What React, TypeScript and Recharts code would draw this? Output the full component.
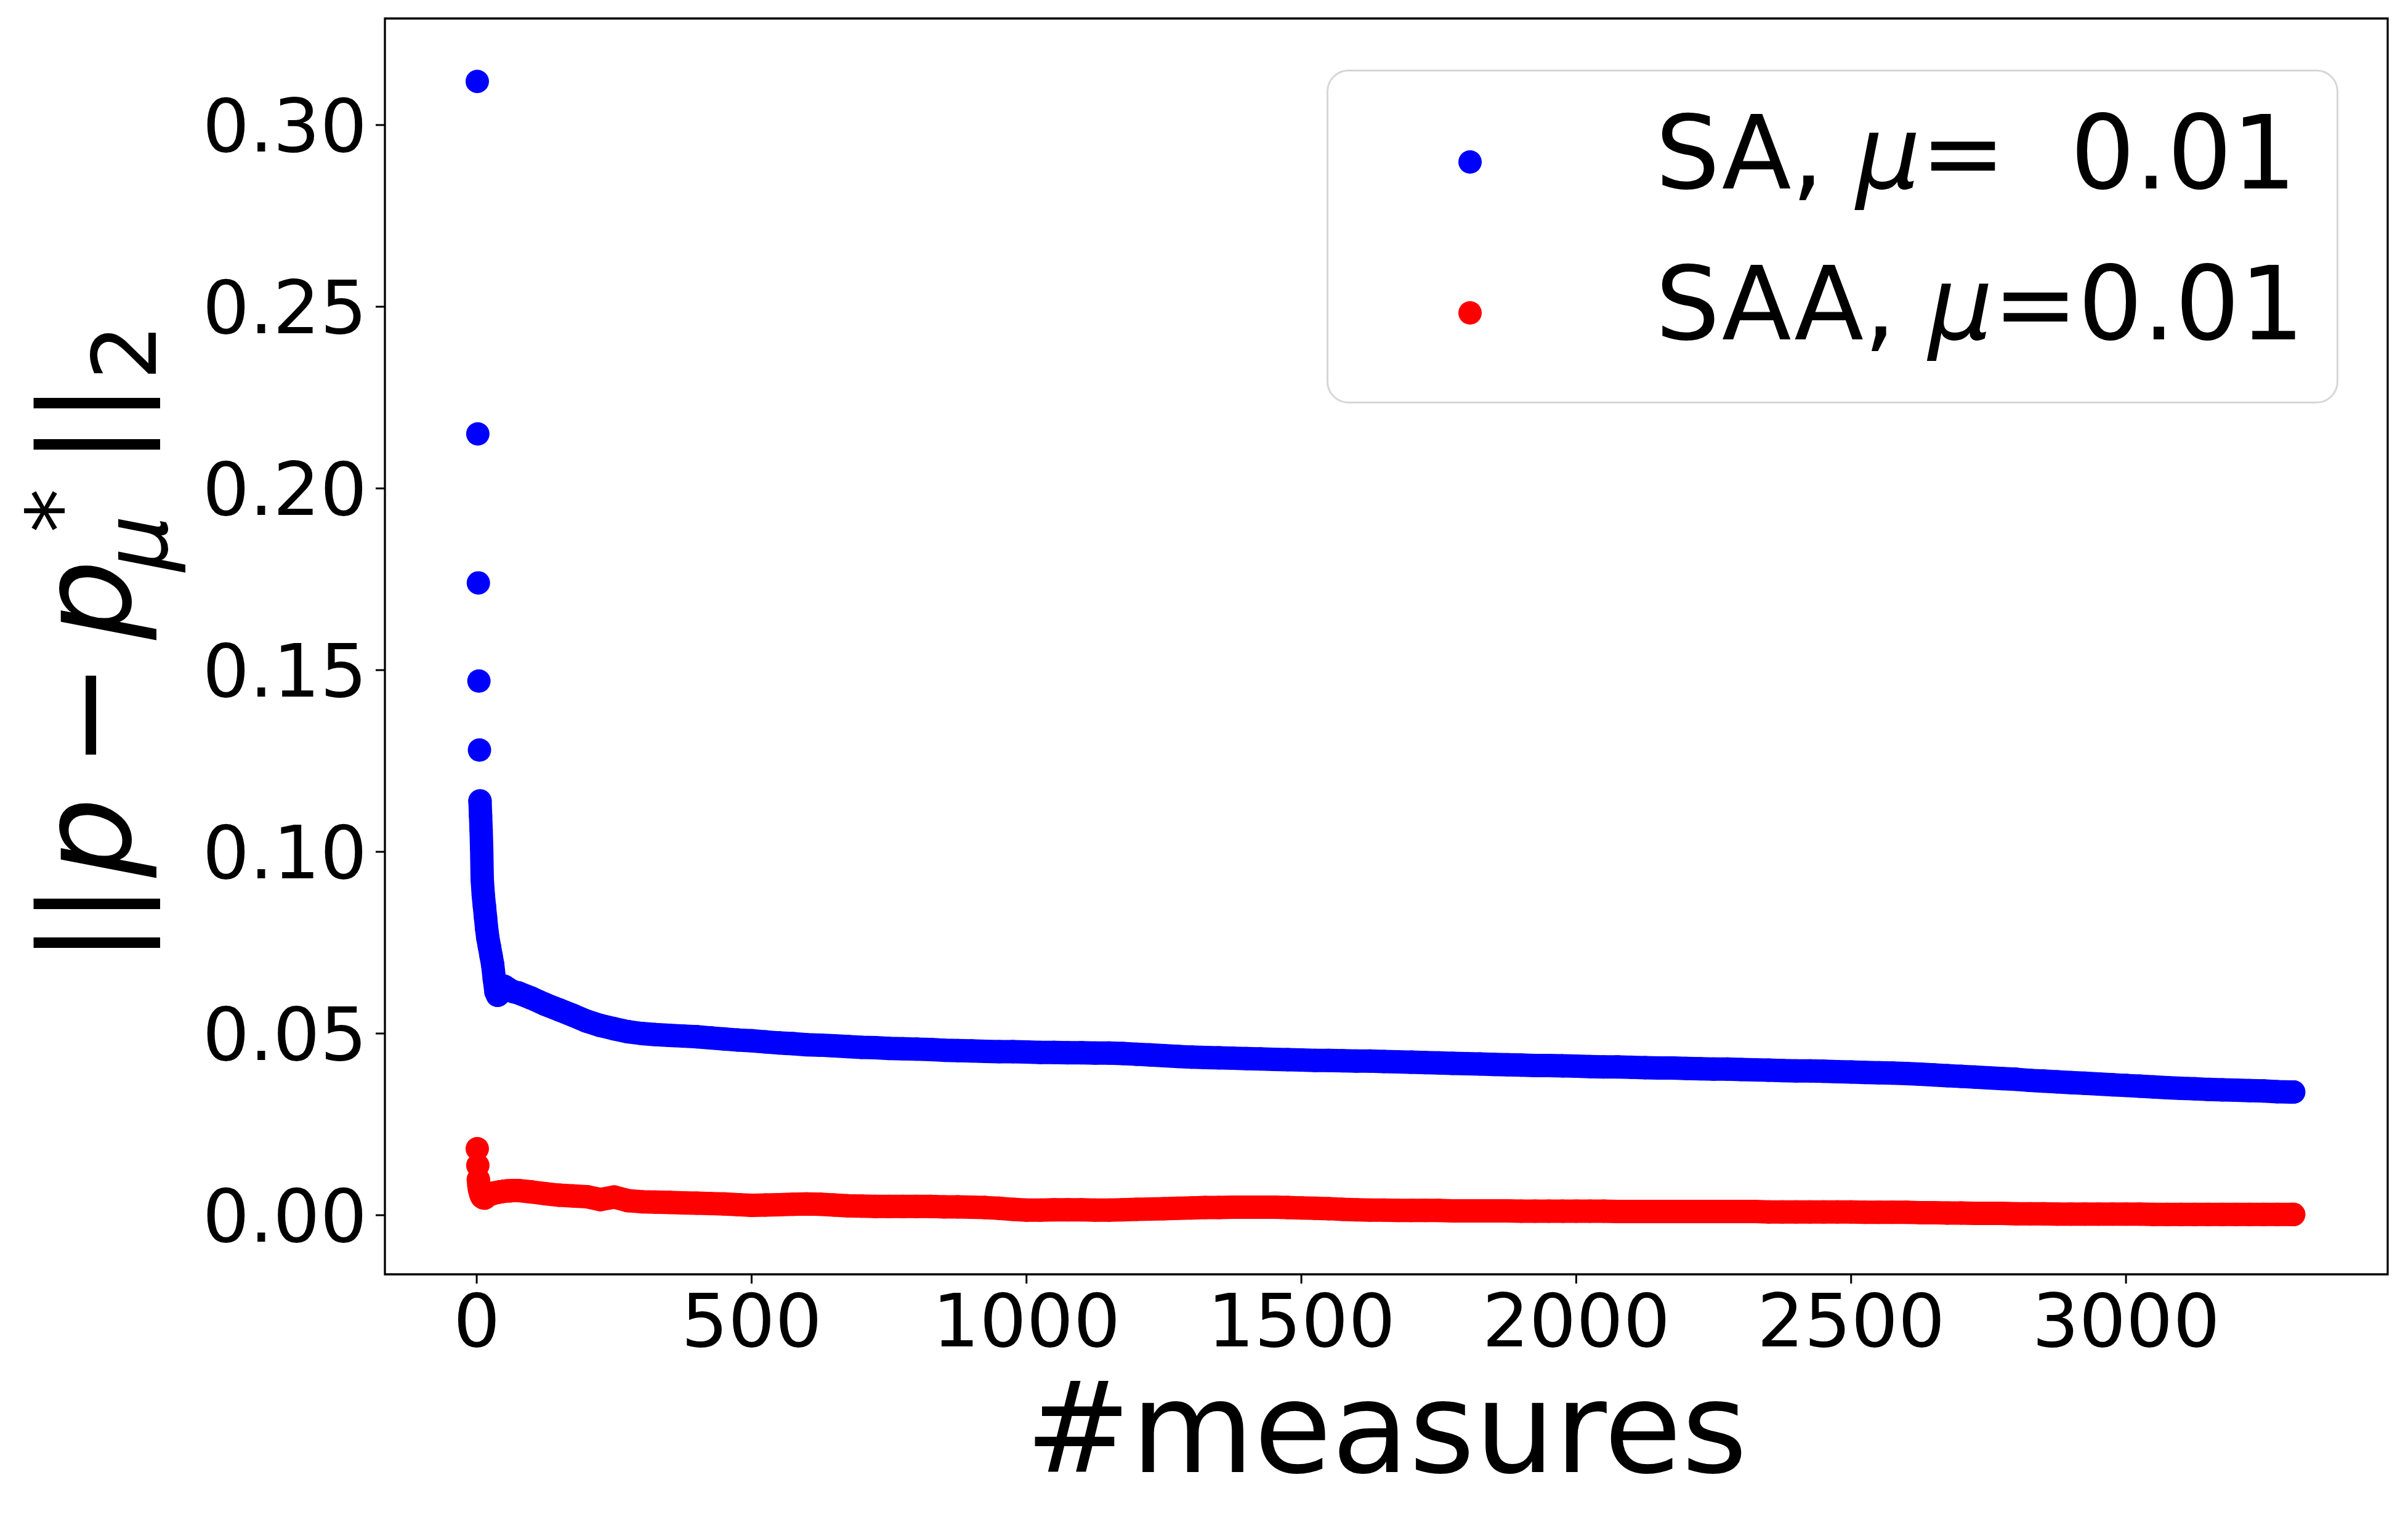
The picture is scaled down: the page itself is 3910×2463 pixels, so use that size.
import React from "react";
import { ScatterChart, Scatter, XAxis, YAxis, ReferenceArea } from "recharts";

// measure index (x); dense at the start, every 25 after
const measures = [
  1, 2, 3, 4, 5, 6, 7, 8, 9, 10, 12, 14, 16, 18, 20, 23, 26, 29, 32, 35, 38, 42, 46, 50, 55, 60, 67,
  75, 100, 125, 150, 175, 200, 225, 250, 275, 300, 325, 350, 375, 400, 425, 450, 475,
  500, 525, 550, 575, 600, 625, 650, 675, 700, 725, 750, 775, 800, 825, 850, 875,
  900, 925, 950, 975, 1000, 1025, 1050, 1075, 1100, 1125, 1150, 1175, 1200, 1225, 1250, 1275,
  1300, 1325, 1350, 1375, 1400, 1425, 1450, 1475, 1500, 1525, 1550, 1575, 1600, 1625, 1650, 1675,
  1700, 1725, 1750, 1775, 1800, 1825, 1850, 1875, 1900, 1925, 1950, 1975, 2000, 2025, 2050, 2075,
  2100, 2125, 2150, 2175, 2200, 2225, 2250, 2275, 2300, 2325, 2350, 2375, 2400, 2425, 2450, 2475,
  2500, 2525, 2550, 2575, 2600, 2625, 2650, 2675, 2700, 2725, 2750, 2775, 2800, 2825, 2850, 2875,
  2900, 2925, 2950, 2975, 3000, 3025, 3050, 3075, 3100, 3125, 3150, 3175, 3200, 3225, 3250, 3275,
  3300, 3305,
];

// ||p - p*_mu||_2 for SA (blue)
const saError = [
  0.312, 0.215, 0.174, 0.147, 0.128, 0.114, 0.11, 0.106, 0.101, 0.0925, 0.088, 0.085, 0.082, 0.079,
  0.0765, 0.074, 0.0715, 0.069, 0.065, 0.0615, 0.0605, 0.061, 0.0625, 0.063, 0.0625, 0.062, 0.0615,
  0.0612, 0.0597, 0.058, 0.0565, 0.055, 0.0534, 0.0522, 0.0513, 0.0505, 0.05, 0.0497, 0.0495, 0.0493,
  0.0491, 0.0488, 0.0485, 0.0482, 0.048, 0.0477, 0.0474, 0.0472, 0.0469, 0.0468, 0.0466, 0.0464,
  0.0462, 0.0461, 0.0459, 0.0458, 0.0457, 0.0456, 0.0454, 0.0453, 0.0452, 0.0451, 0.045, 0.045,
  0.0449, 0.0448, 0.0448, 0.0447, 0.0447, 0.0446, 0.0446, 0.0445, 0.0443, 0.0441, 0.0439, 0.0437,
  0.0435, 0.0434, 0.0433, 0.0432, 0.0431, 0.043, 0.0429, 0.0428, 0.0427, 0.0426, 0.0426, 0.0425,
  0.0424, 0.0424, 0.0423, 0.0422, 0.0421, 0.042, 0.0419, 0.0418, 0.0417, 0.0416, 0.0415, 0.0414,
  0.0413, 0.0412, 0.0412, 0.0411, 0.041, 0.0409, 0.0408, 0.0408, 0.0407, 0.0406, 0.0405, 0.0405,
  0.0404, 0.0403, 0.0402, 0.0402, 0.0401, 0.04, 0.0399, 0.0398, 0.0397, 0.0397, 0.0396, 0.0395,
  0.0394, 0.0393, 0.0392, 0.0391, 0.039, 0.0388, 0.0386, 0.0384, 0.0382, 0.038, 0.0378, 0.0376,
  0.0374, 0.0371, 0.0369, 0.0367, 0.0365, 0.0363, 0.0361, 0.0359, 0.0357, 0.0355, 0.0353, 0.0351,
  0.0349, 0.0348, 0.0346, 0.0345, 0.0344, 0.0343, 0.0342, 0.034, 0.0339, 0.0339,
];

// same for SAA (red)
const saaError = [
  0.0183, 0.0137, 0.0098, 0.0082, 0.0072, 0.0066, 0.006, 0.0056, 0.0052, 0.005, 0.0048, 0.0047,
  0.0049, 0.0052, 0.0055, 0.0057, 0.0058, 0.006, 0.0061, 0.0062, 0.0063, 0.0064, 0.0065, 0.0066,
  0.0067, 0.0067, 0.0068,
  0.0068, 0.0064, 0.0059, 0.0055, 0.0053, 0.0051, 0.0043, 0.005, 0.004, 0.0037, 0.0036, 0.0035,
  0.0034, 0.0033, 0.0032, 0.0031, 0.0029, 0.0027, 0.0028, 0.0029, 0.003, 0.0031, 0.003, 0.0028,
  0.0026, 0.0025, 0.0024, 0.0024, 0.0024, 0.0024, 0.0024, 0.0023, 0.0023, 0.0022, 0.0021, 0.0019,
  0.0016, 0.0014, 0.0014, 0.0015, 0.0015, 0.0015, 0.0014, 0.0014, 0.0015, 0.0016, 0.0017, 0.0018,
  0.0019, 0.002, 0.0021, 0.0021, 0.0022, 0.0022, 0.0022, 0.0022, 0.0021, 0.002, 0.0019, 0.0018,
  0.0016, 0.0015, 0.0014, 0.0014, 0.0013, 0.0013, 0.0013, 0.0013, 0.0012, 0.0012, 0.0012, 0.0012,
  0.0012, 0.0011, 0.0011, 0.0011, 0.0011, 0.0011, 0.0011, 0.0011, 0.001, 0.001, 0.001, 0.001,
  0.001, 0.001, 0.001, 0.001, 0.001, 0.001, 0.001, 0.0009, 0.0009, 0.0009, 0.0009, 0.0009, 0.0009,
  0.0009, 0.0008, 0.0008, 0.0008, 0.0008, 0.0007, 0.0007, 0.0006, 0.0006, 0.0005, 0.0005, 0.0005,
  0.0004, 0.0004, 0.0004, 0.0003, 0.0003, 0.0003, 0.0003, 0.0003, 0.0003, 0.0003, 0.0002, 0.0002,
  0.0002, 0.0002, 0.0002, 0.0002, 0.0002, 0.0002, 0.0002, 0.0002, 0.0002, 0.0002,
];

const xTicks = [0, 500, 1000, 1500, 2000, 2500, 3000];
const yTicks = [0, 0.05, 0.1, 0.15, 0.2, 0.25, 0.3];
const seriesNames = ["SA", "SAA"];
const seriesColors = ["#0000ff", "#ff0000"];
const muValue = "0.01";
// how many leading points stand apart as single dots (the rest overlap into a band)
const sparseCount = [5, 2];

const W = 3910;
const H = 2463;
const FONT = "DejaVu Sans";
const X_DOMAIN: [number, number] = [-167, 3476];
const Y_DOMAIN: [number, number] = [-0.01627, 0.32932];
const DOT_R = 19;

const toPoints = (ys: number[]) => measures.map((x, i) => ({ x, y: ys[i] }));
const series = [toPoints(saError), toPoints(saaError)];

const dot = (color: string) => (props: any) =>
  <circle cx={props.cx} cy={props.cy} r={DOT_R} fill={color} />;

// mathtext-ish y label, pieces placed along the rotated baseline
const yLabelPieces = [
  { t: "|", s: 9.5 },
  { t: "|", s: 72.5 },
  { t: "p", s: 180, it: true },
  { t: "\u2212", s: 379 },
  { t: "p", s: 566, it: true },
  { t: "\u03bc", s: 658, it: true, small: true, bx: 271 },
  { t: "*", s: 711, small: true, bx: 146 },
  { t: "|", s: 818.5 },
  { t: "|", s: 885.5 },
  { t: "2", s: 968.5, small: true, bx: 253 },
];

function YLabel() {
  return (
    <g>
      {yLabelPieces.map((p, i) => {
        const bx = p.bx ?? 212;
        const py = 1540 - p.s;
        return (
          <text
            key={i}
            x={bx}
            y={py}
            transform={`rotate(-90 ${bx} ${py})`}
            textAnchor="middle"
            fontFamily={FONT}
            fontSize={p.small ? 143.5 : 205}
            fontStyle={p.it ? "italic" : "normal"}
            fill="#000"
          >
            {p.t}
          </text>
        );
      })}
    </g>
  );
}

function XLabel(props: any) {
  const vb = props.viewBox || { x: 625, width: 3252, y: 2069 };
  return (
    <text
      x={vb.x + vb.width / 2}
      y={2390}
      textAnchor="middle"
      fontFamily={FONT}
      fontSize={205}
      fill="#000"
    >
      #measures
    </text>
  );
}

function LegendBox() {
  const gaps = ["\u00a0\u00a0", ""];
  return (
    <div style={{ position: "absolute", left: 2154, top: 113, width: 1643, height: 542 }}>
      <svg width={1643} height={542}>
        <rect
          x={1.5}
          y={1.5}
          width={1640}
          height={539}
          rx={34}
          ry={34}
          fill="#fff"
          fillOpacity={0.8}
          stroke="#d6d6d6"
          strokeWidth={3}
        />
        {seriesNames.map((name, i) => (
          <g key={name}>
            <circle cx={233} cy={150 + i * 245} r={DOT_R} fill={seriesColors[i]} />
            <text x={534} y={193 + i * 245} fontFamily={FONT} fontSize={165} fill="#000">
              {name + ", "}
              <tspan fontStyle="italic">{"\u03bc"}</tspan>
              {"=" + gaps[i] + muValue}
            </text>
          </g>
        ))}
      </svg>
    </div>
  );
}

export default function App() {
  const tickStyle = { fontSize: 120, fill: "#000", fontFamily: FONT };
  return (
    <div
      style={{
        position: "absolute",
        left: 0,
        top: 0,
        width: W,
        height: H,
        background: "#fff",
        fontFamily: FONT,
      }}
    >
      <ScatterChart
        width={W}
        height={H}
        margin={{ top: 30, right: 33, bottom: 0, left: 0 }}
      >
        <XAxis
          type="number"
          dataKey="x"
          domain={X_DOMAIN}
          ticks={xTicks}
          interval={0}
          allowDataOverflow
          height={394}
          tick={tickStyle}
          tickSize={15}
          tickMargin={17}
          axisLine={false}
          tickLine={{ stroke: "#000", strokeWidth: 3 }}
          label={<XLabel />}
        />
        <YAxis
          type="number"
          dataKey="y"
          domain={Y_DOMAIN}
          ticks={yTicks}
          interval={0}
          allowDataOverflow
          width={625}
          tick={tickStyle}
          tickFormatter={(v: number) => v.toFixed(2)}
          tickSize={15}
          tickMargin={14}
          axisLine={false}
          tickLine={{ stroke: "#000", strokeWidth: 3 }}
          label={<YLabel />}
        />
        {series.map((pts, i) => (
          <Scatter
            key={`${seriesNames[i]}-sparse`}
            name={seriesNames[i]}
            data={pts.slice(0, sparseCount[i])}
            fill={seriesColors[i]}
            shape={dot(seriesColors[i])}
            isAnimationActive={false}
          />
        ))}
        {/* the dense part: overlapping dots merge into a solid band */}
        {series.map((pts, i) => (
          <Scatter
            key={`${seriesNames[i]}-dense`}
            name={seriesNames[i]}
            data={pts.slice(sparseCount[i])}
            fill={seriesColors[i]}
            shape={dot(seriesColors[i])}
            line={{
              stroke: seriesColors[i],
              strokeWidth: DOT_R * 2,
              strokeLinejoin: "round",
              strokeLinecap: "round",
            }}
            lineType="joint"
            isAnimationActive={false}
          />
        ))}
        {/* full box around the axes, like matplotlib spines */}
        <ReferenceArea
          x1={X_DOMAIN[0]}
          x2={X_DOMAIN[1]}
          y1={Y_DOMAIN[0]}
          y2={Y_DOMAIN[1]}
          fill="none"
          stroke="#000"
          strokeWidth={3.3}
          ifOverflow="visible"
        />
      </ScatterChart>
      <LegendBox />
    </div>
  );
}
